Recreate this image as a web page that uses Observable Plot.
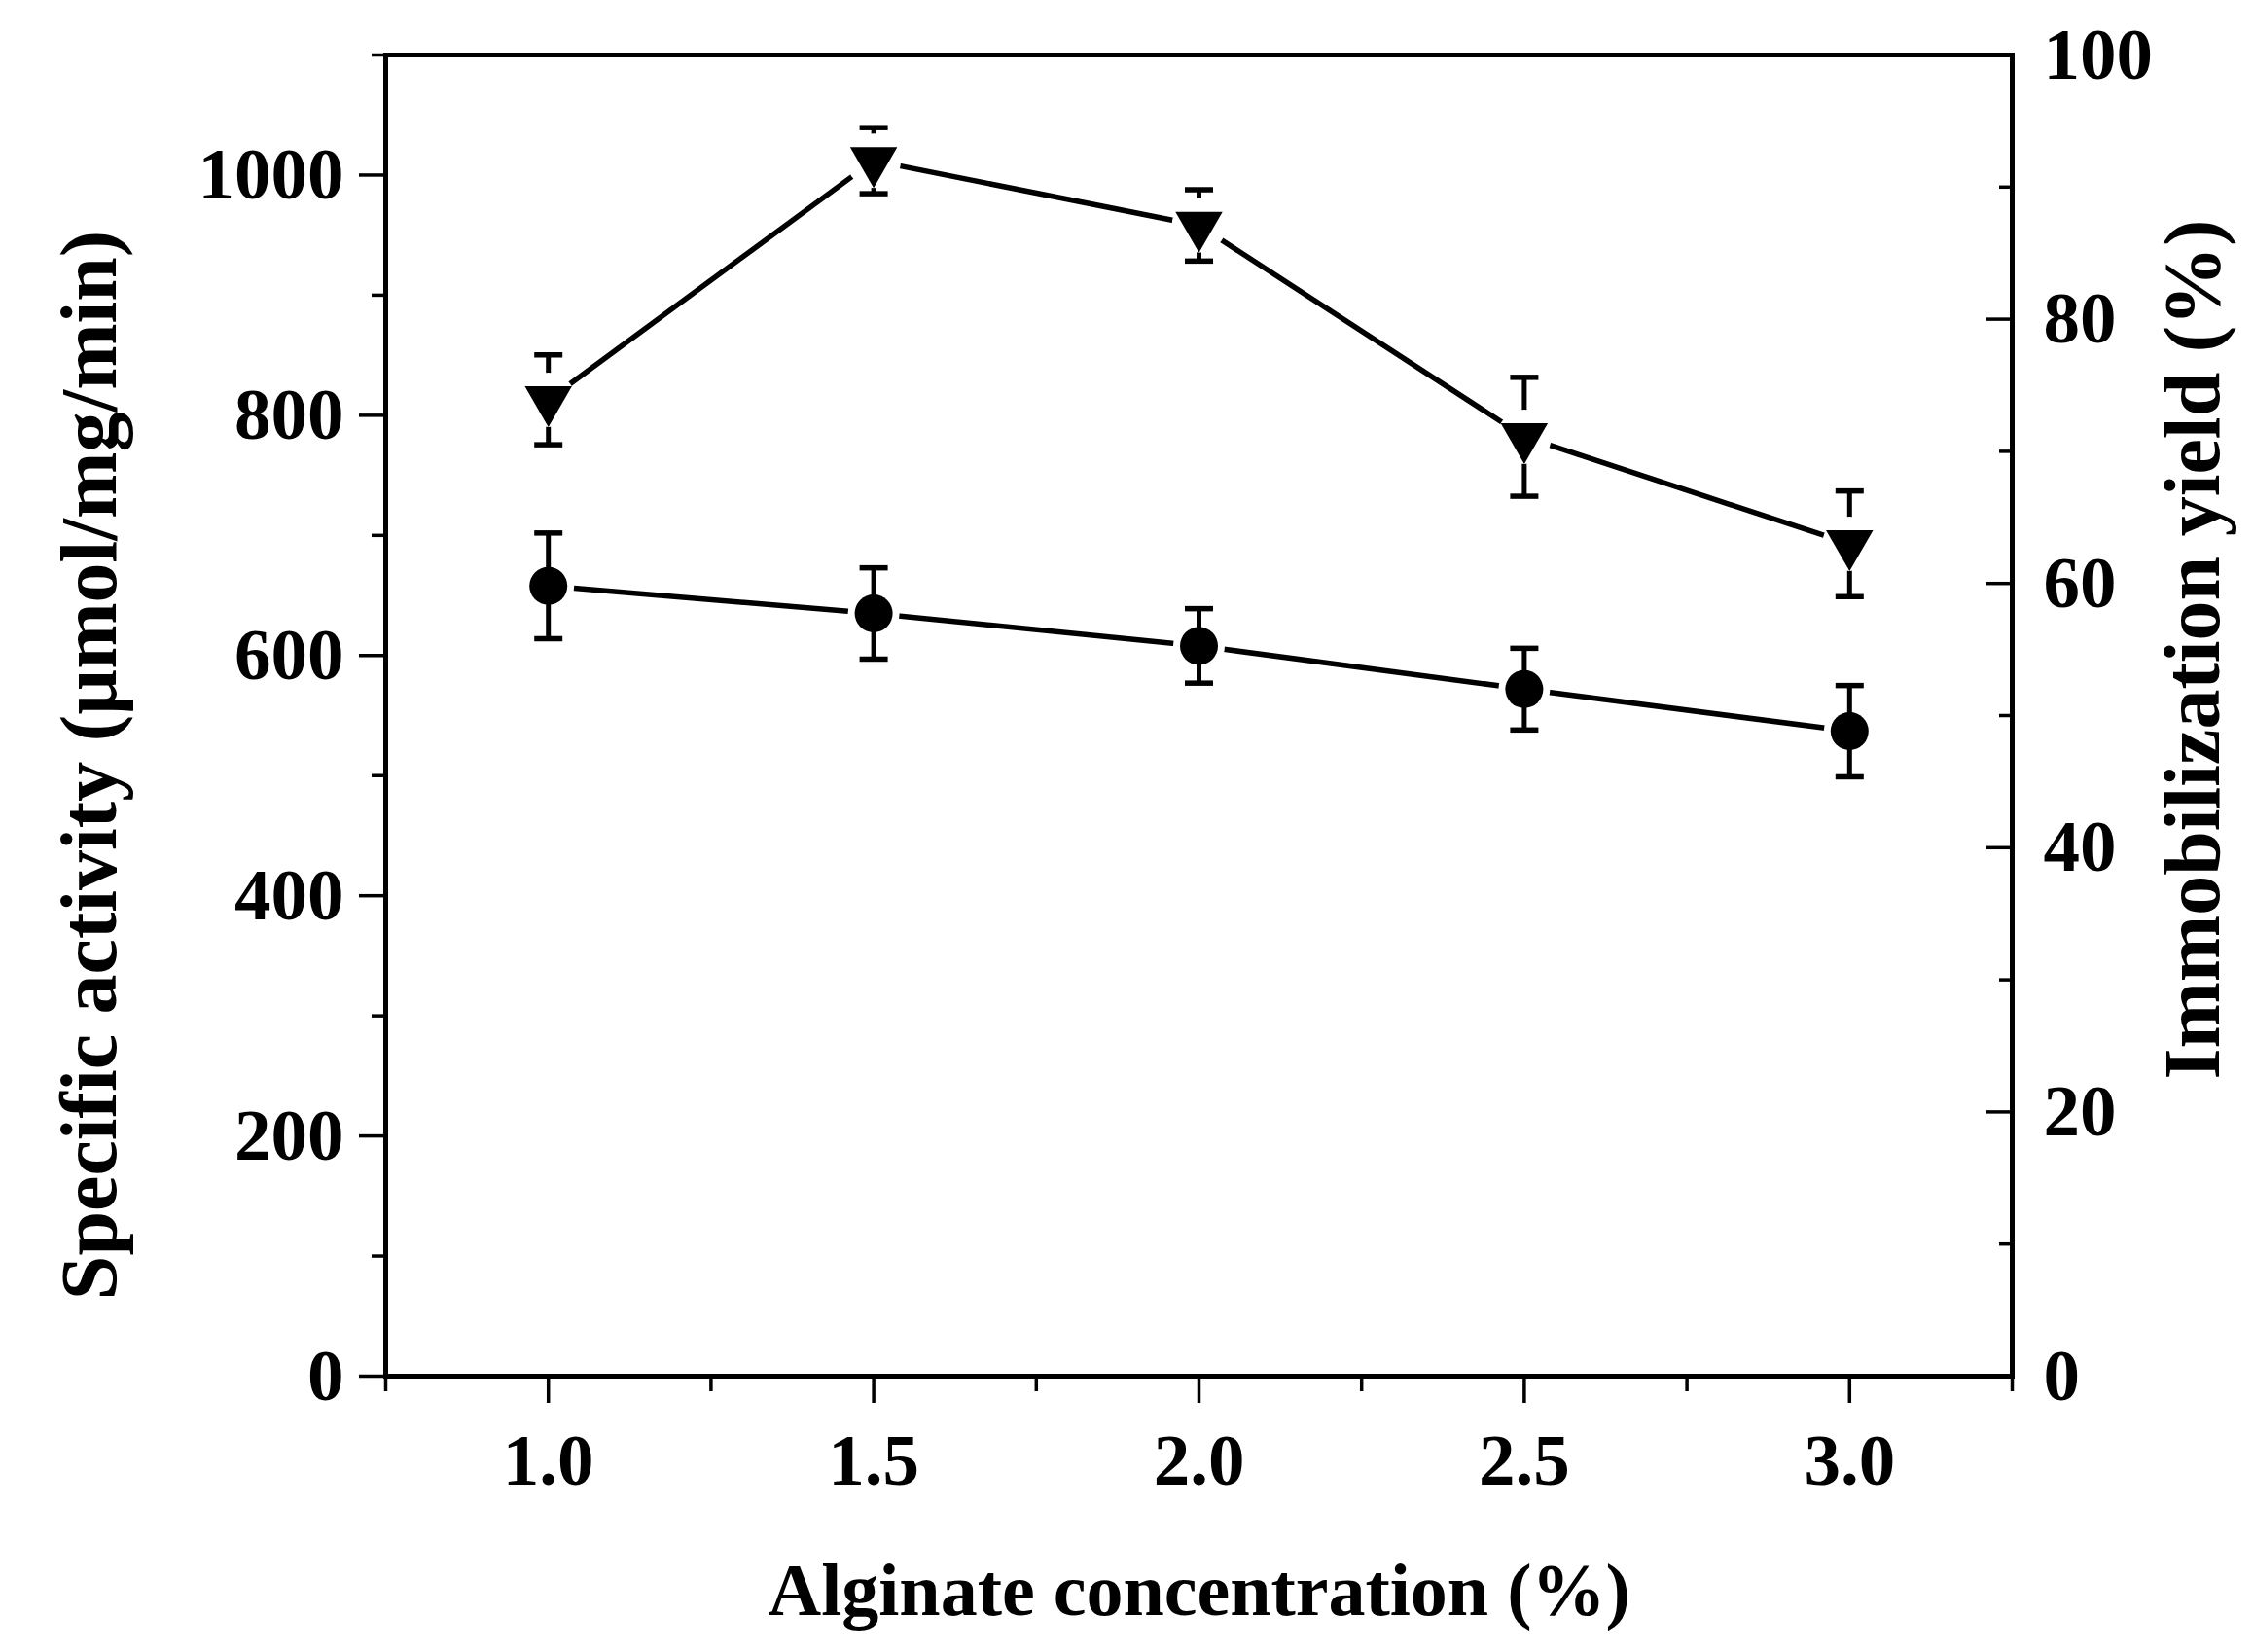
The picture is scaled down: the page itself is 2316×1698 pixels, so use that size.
<!DOCTYPE html>
<html>
<head>
<meta charset="utf-8">
<script src="https://cdn.jsdelivr.net/npm/d3@7"></script>
<script src="https://cdn.jsdelivr.net/npm/@observablehq/plot@0.6"></script>
<style>
  html, body { margin: 0; padding: 0; background: #fff; }
  #chart svg { display: block; }
</style>
</head>
<body>
<div id="chart"></div>
<script>
// ---- data ----
const concentration = [1.0, 1.5, 2.0, 2.5, 3.0];                 // Alginate concentration (%)
const specificActivity = [658, 635, 608, 572, 537];              // µmol/mg/min (circles, left axis)
const specificActivityErr = [44, 38, 31, 34, 38];
const immobilizationYield = [73.9, 92.0, 87.1, 71.1, 63.0];      // % (down triangles, right axis)
const immobilizationYieldErr = [3.4, 2.5, 2.7, 4.5, 4.0];

const xTicks = [1.0, 1.5, 2.0, 2.5, 3.0];
const xMinorTicks = [0.75, 1.25, 1.75, 2.25, 2.75, 3.25];
const leftTicks = [0, 200, 400, 600, 800, 1000];
const leftMinorTicks = [100, 300, 500, 700, 900, 1100];
const rightTicks = [0, 20, 40, 60, 80, 100];
const rightMinorTicks = [10, 30, 50, 70, 90];

const leftMax = 1100, rightMax = 100;
const k = leftMax / rightMax; // right-axis value -> left-scale value

const activity = concentration.map((x, i) => ({x, y: specificActivity[i], e: specificActivityErr[i]}));
const yieldData = concentration.map((x, i) => ({x, y: immobilizationYield[i] * k, e: immobilizationYieldErr[i] * k}));

const capSymbol = {
  draw(context, size) {
    const r = Math.sqrt(size / Math.PI);
    context.moveTo(-r, 0);
    context.lineTo(r, 0);
  }
};

const serif = "'Liberation Serif', 'Times New Roman', Times, serif";
const tickFont = 75;

const chart = Plot.plot({
  width: 2316,
  height: 1698,
  marginLeft: 396,
  marginRight: 248,
  marginTop: 56,
  marginBottom: 284,
  x: {domain: [0.75, 3.25]},
  y: {domain: [0, leftMax]},
  style: {fontFamily: serif, fontWeight: "bold", fontSize: tickFont + "px", background: "#fff", color: "#000"},
  marks: [
    // axes
    Plot.axisX(xTicks, {tickSize: 28, tickPadding: 30, strokeWidth: 3.5, tickFormat: d3.format(".1f"), label: null, fontSize: tickFont}),
    Plot.axisX(xMinorTicks, {tickSize: 16, strokeWidth: 3.5, tickFormat: () => "", label: null}),
    Plot.axisY(leftTicks, {tickSize: 27, tickPadding: 16, strokeWidth: 3.5, tickFormat: d => String(d), label: null, fontSize: tickFont}),
    Plot.axisY(leftMinorTicks, {tickSize: 14, strokeWidth: 3.5, tickFormat: () => "", label: null}),
    Plot.axisY(rightTicks.map(v => v * k), {anchor: "right", tickSize: -27, tickPadding: 59, strokeWidth: 3.5, tickFormat: d => String(Math.round(d / k)), label: null, fontSize: tickFont, textAnchor: "start"}),
    Plot.axisY(rightMinorTicks.map(v => v * k), {anchor: "right", tickSize: -14, strokeWidth: 3.5, tickFormat: () => "", label: null}),
    Plot.frame({stroke: "#000", strokeWidth: 5}),

    // connecting lines
    Plot.line(activity, {x: "x", y: "y", stroke: "#000", strokeWidth: 5.5}),
    Plot.line(yieldData, {x: "x", y: "y", stroke: "#000", strokeWidth: 5.5}),

    // triangle error bars (beneath the symbol gap)
    Plot.ruleX(yieldData, {x: "x", y1: d => d.y - d.e, y2: d => d.y + d.e, stroke: "#000", strokeWidth: 5}),
    Plot.dot(yieldData, {x: "x", y: d => d.y + d.e, symbol: capSymbol, r: 14.5, fill: "none", stroke: "#000", strokeWidth: 5.5}),
    Plot.dot(yieldData, {x: "x", y: d => d.y - d.e, symbol: capSymbol, r: 14.5, fill: "none", stroke: "#000", strokeWidth: 5.5}),

    // gaps around symbols
    Plot.dot(yieldData, {x: "x", y: "y", r: 28, fill: "#fff", stroke: "none"}),
    Plot.dot(activity, {x: "x", y: "y", r: 26.5, fill: "#fff", stroke: "none"}),

    // circle error bars
    Plot.ruleX(activity, {x: "x", y1: d => d.y - d.e, y2: d => d.y + d.e, stroke: "#000", strokeWidth: 5}),
    Plot.dot(activity, {x: "x", y: d => d.y + d.e, symbol: capSymbol, r: 14.5, fill: "none", stroke: "#000", strokeWidth: 5.5}),
    Plot.dot(activity, {x: "x", y: d => d.y - d.e, symbol: capSymbol, r: 14.5, fill: "none", stroke: "#000", strokeWidth: 5.5}),

    // symbols
    Plot.dot(activity, {x: "x", y: "y", r: 19.5, fill: "#000", stroke: "none", symbol: "circle"}),
    Plot.dot(yieldData, {x: "x", y: "y", r: 18, fill: "#000", stroke: "none", symbol: "triangle", rotate: 180}),

    // axis titles
    Plot.text(["Alginate concentration (%)"], {frameAnchor: "bottom", dy: 221, lineAnchor: "middle", textAnchor: "middle", fontSize: 76, fontWeight: "bold", fill: "#000"}),
    Plot.text(["Specific activity (µmol/mg/min)"], {frameAnchor: "left", rotate: -90, dx: -304, dy: 51, lineAnchor: "middle", textAnchor: "middle", fontSize: 82, fontWeight: "bold", fill: "#000"}),
    Plot.text(["Immobilization yield (%)"], {frameAnchor: "right", rotate: -90, dx: 186, dy: -68, lineAnchor: "middle", textAnchor: "middle", fontSize: 82, fontWeight: "bold", fill: "#000"})
  ]
});

document.getElementById("chart").append(chart);
</script>
</body>
</html>
